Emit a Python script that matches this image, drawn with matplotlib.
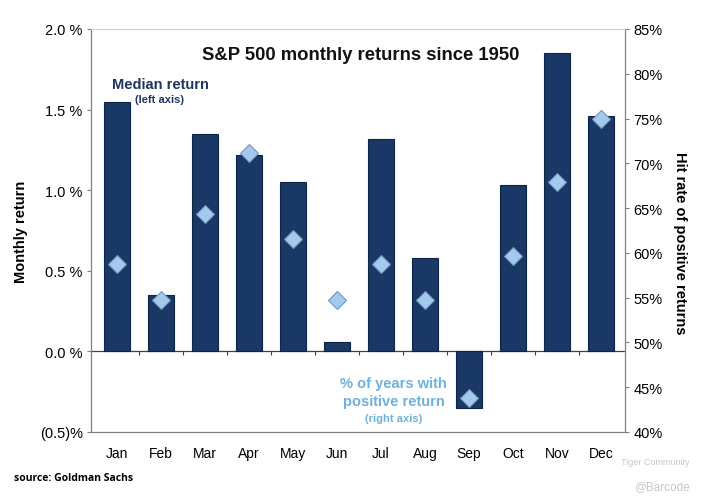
import numpy as np
import matplotlib
matplotlib.use("Agg")
import matplotlib.pyplot as plt

plt.rcParams['font.family'] = ['Liberation Sans', 'DejaVu Sans']

months = ['Jan', 'Feb', 'Mar', 'Apr', 'May', 'Jun', 'Jul', 'Aug', 'Sep', 'Oct', 'Nov', 'Dec']
median_return = [1.55, 0.35, 1.35, 1.22, 1.05, 0.06, 1.32, 0.58, -0.35, 1.03, 1.85, 1.46]
hit_rate = [58.8, 54.7, 64.3, 71.2, 61.6, 54.7, 58.8, 54.7, 43.8, 59.6, 67.9, 74.9]
left_ticks = [-0.5, 0.0, 0.5, 1.0, 1.5, 2.0]
left_labels = ['(0.5)%', '0.0 %', '0.5 %', '1.0 %', '1.5 %', '2.0 %']
right_ticks = [40, 45, 50, 55, 60, 65, 70, 75, 80, 85]

navy = '#1a3866'
navy_edge = '#0e2444'
diamond = '#a3caec'
diamond_edge = '#7396bd'
light_text = '#6fb1dd'
frame = '#808080'

fig = plt.figure(figsize=(7.03, 5.02), dpi=100)
ax = fig.add_axes([0.1294, 0.1375, 0.7596, 0.8028])

x = np.arange(len(months))
ax.bar(x, median_return, width=0.59, color=navy, edgecolor=navy_edge, linewidth=0.8, zorder=2)
ax.set_xlim(-0.596, 11.546)
ax.set_ylim(-0.5, 2.0)
ax.set_yticks(left_ticks)
ax.set_yticklabels(left_labels)
ax.set_xticks(x)
ax.set_xticklabels(months)
ax.tick_params(axis='x', length=0, pad=10, labelsize=10)
ax.tick_params(axis='y', length=3, width=0.8, color=frame, pad=3, labelsize=10.5)
for side in ['left', 'right', 'bottom']:
 ax.spines[side].set_color(frame)
 ax.spines[side].set_linewidth(0.9)
ax.spines['top'].set_color('#d0d0d0')
ax.spines['top'].set_linewidth(0.8)
ax.set_ylabel('Monthly return', fontsize=10.5, fontweight='bold')
ax.yaxis.set_label_coords(-0.118, 0.5)

# zero line with ticks between months
zero = ax.secondary_xaxis(0.2)
zero.set_xticks(x[:-1] + 0.5)
zero.tick_params(length=3, width=0.8, color='#404040', labelbottom=False)
zero.spines['bottom'].set_color('#404040')
zero.spines['bottom'].set_linewidth(0.9)

ax2 = ax.twinx()
ax2.plot(x, hit_rate, linestyle='none', marker='D', markersize=9.5,
         markerfacecolor=diamond, markeredgecolor=diamond_edge, markeredgewidth=0.8, zorder=3)
ax2.set_ylim(40, 85)
ax2.set_yticks(right_ticks)
ax2.set_yticklabels([f'{v}%' for v in right_ticks])
ax2.tick_params(axis='y', length=3, width=0.8, color=frame, pad=3, labelsize=10.5)
for side in ['left', 'right', 'bottom', 'top']:
 ax2.spines[side].set_visible(False)
ax2.set_ylabel('Hit rate of positive returns', fontsize=10.5, fontweight='bold', rotation=270, va='center')
ax2.yaxis.set_label_coords(1.103, 0.47)

ax.text(0.505, 0.936, 'S&P 500 monthly returns since 1950', transform=ax.transAxes,
        ha='center', va='center', fontsize=13.3, fontweight='bold', color='#111111')
ax.text(0.040, 0.864, 'Median return', transform=ax.transAxes, ha='left', va='center',
        fontsize=10.5, fontweight='bold', color='#1f3660')
ax.text(0.083, 0.826, '(left axis)', transform=ax.transAxes, ha='left', va='center',
        fontsize=8, fontweight='bold', color='#1f3660')
ax.text(0.567, 0.1216, '% of years with', transform=ax.transAxes,
        ha='center', va='center', fontsize=10.5, fontweight='bold', color=light_text)
ax.text(0.567, 0.0769, 'positive return', transform=ax.transAxes,
        ha='center', va='center', fontsize=10.5, fontweight='bold', color=light_text)
ax.text(0.567, 0.0347, '(right axis)', transform=ax.transAxes, ha='center', va='center',
        fontsize=8, fontweight='bold', color=light_text)

fig.text(14 / 703, 1 - 479 / 502, 'source: Goldman Sachs', ha='left', va='center',
         fontsize=7.5, fontweight='bold', family=['Open Sans', 'DejaVu Sans'])
fig.text(690 / 703, 1 - 463 / 502, 'Tiger Community', ha='right', va='center', fontsize=6.5, color='#c8c8c8')
fig.text(690 / 703, 1 - 487 / 502, '@Barcode', ha='right', va='center', fontsize=8.5, color='#c8c8c8')

fig.savefig('out.png', dpi=100)
